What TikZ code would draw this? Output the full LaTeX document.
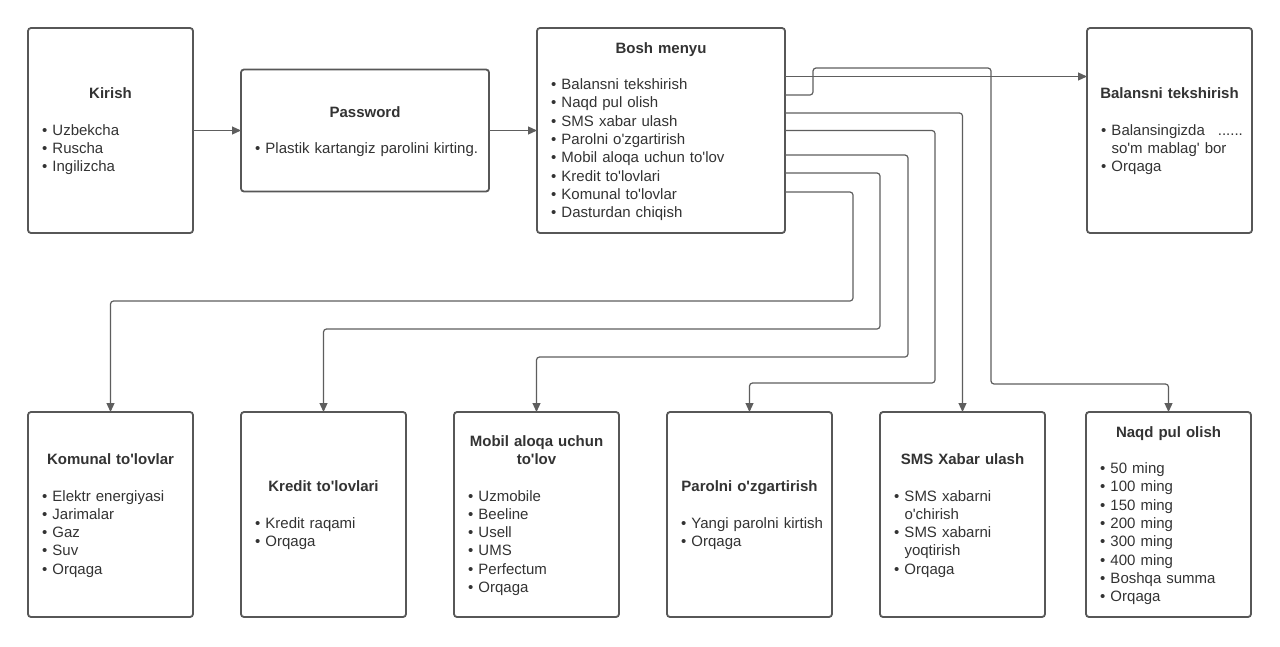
\documentclass[tikz,border=0pt]{standalone}
\usepackage{fontspec}
\setmainfont{Liberation Sans}[Ligatures=TeXOff]
\usepackage{xcolor}
\usepackage{tikz}
\usetikzlibrary{arrows.meta,positioning}
\definecolor{boxline}{HTML}{575757}
\definecolor{wireline}{HTML}{5E5E5E}
\definecolor{inktext}{HTML}{333333}
\newcommand{\boxhead}[1]{\noindent\makebox[\hsize][c]{\bfseries\begin{tabular}[b]{@{}c@{}}#1\end{tabular}}\par\vspace{18.3pt}}
\newcommand{\itm}[1]{\par\hangindent=10.5pt\hangafter=1\noindent\makebox[10.5pt][l]{\textbullet}\mbox{#1}}
\newcommand{\itmw}[2]{\par\hangindent=10.5pt\hangafter=1\noindent\makebox[10.5pt][l]{\textbullet}\mbox{#1}\newline\mbox{#2}}

\begin{document}
\begin{tikzpicture}[x=1pt,y=-1pt,
 node distance=48pt,
 menubox/.style={rectangle,rounded corners=3pt,draw=boxline,line width=1.8pt,text=inktext,minimum width=165pt,minimum height=205pt,text width=137pt,inner xsep=14pt,inner ysep=0pt,outer sep=0pt,align=left,font=\fontsize{15}{18.3}\selectfont},
 widebox/.style={menubox,minimum width=248pt,text width=220pt},
 arr/.style={-{Triangle[length=9pt,width=8pt]},draw=wireline,line width=1.2pt,rounded corners=3pt}
]
\path[use as bounding box,fill=white] (0,0) rectangle (1280,646);

% top row
\node[menubox] (kirish) at (110.5,130.5) {\boxhead{Kirish}\itm{Uzbekcha}\itm{Ruscha}\itm{Ingilizcha}};
\node[widebox,minimum height=122pt,right=of kirish] (password) {\boxhead{Password}\itm{Plastik kartangiz parolini kirting.}};
\node[widebox,right=of password] (bosh) {\boxhead{Bosh menyu}\itm{Balansni tekshirish}\itm{Naqd pul olish}\itm{SMS xabar ulash}\itm{Parolni o'zgartirish}\itm{Mobil aloqa uchun to'lov}\itm{Kredit to'lovlari}\itm{Komunal to'lovlar}\itm{Dasturdan chiqish}};
\node[menubox] (balans) at (1169.5,130.5) {\boxhead{Balansni tekshirish}\itmw{Balansingizda\hspace{13pt}......}{so'm mablag' bor}\itm{Orqaga}};

% bottom row
\node[menubox] (komunal) at (110.5,514.5) {\boxhead{Komunal to'lovlar}\itm{Elektr energiyasi}\itm{Jarimalar}\itm{Gaz}\itm{Suv}\itm{Orqaga}};
\node[menubox,right=of komunal] (kredit) {\boxhead{Kredit to'lovlari}\itm{Kredit raqami}\itm{Orqaga}};
\node[menubox,right=of kredit] (mobil) {\boxhead{Mobil aloqa uchun\\to'lov}\itm{Uzmobile}\itm{Beeline}\itm{Usell}\itm{UMS}\itm{Perfectum}\itm{Orqaga}};
\node[menubox,right=of mobil] (parol) {\boxhead{Parolni o'zgartirish}\itm{Yangi parolni kirtish}\itm{Orqaga}};
\node[menubox,right=of parol] (sms) {\boxhead{SMS Xabar ulash}\itmw{SMS xabarni}{o'chirish}\itmw{SMS xabarni}{yoqtirish}\itm{Orqaga}};
\node[menubox,right=41pt of sms] (naqd) {\boxhead{Naqd pul olish}\itm{50 ming}\itm{100 ming}\itm{150 ming}\itm{200 ming}\itm{300 ming}\itm{400 ming}\itm{Boshqa summa}\itm{Orqaga}};

% exits of the main menu
\coordinate (oBal) at ([yshift=54pt]bosh.east);
\coordinate (oNaqd) at ([yshift=35.5pt]bosh.east);
\coordinate (oSms) at ([yshift=17.5pt]bosh.east);
\coordinate (oParol) at (bosh.east);
\coordinate (oMobil) at ([yshift=-24.5pt]bosh.east);
\coordinate (oKredit) at ([yshift=-42.5pt]bosh.east);
\coordinate (oKomunal) at ([yshift=-61.5pt]bosh.east);

\draw[arr] (kirish.east) -- (kirish.east -| password.west);
\draw[arr] (password.east) -- (password.east -| bosh.west);
\draw[arr] (oBal) -- (oBal -| balans.west);
\draw[arr] (oNaqd) -- ++(28,0) -- ++(0,-27) -- ++(178,0) |- ([yshift=28pt]naqd.north) -- (naqd.north);
\draw[arr] (oSms) -| (sms.north);
\draw[arr] (oParol) -- ++(150,0) |- ([yshift=29pt]parol.north) -- (parol.north);
\draw[arr] (oMobil) -- ++(123,0) |- ([yshift=55pt]mobil.north) -- (mobil.north);
\draw[arr] (oKredit) -- ++(95,0) |- ([yshift=83pt]kredit.north) -- (kredit.north);
\draw[arr] (oKomunal) -- ++(68,0) |- ([yshift=111pt]komunal.north) -- (komunal.north);
\end{tikzpicture}
\end{document}
